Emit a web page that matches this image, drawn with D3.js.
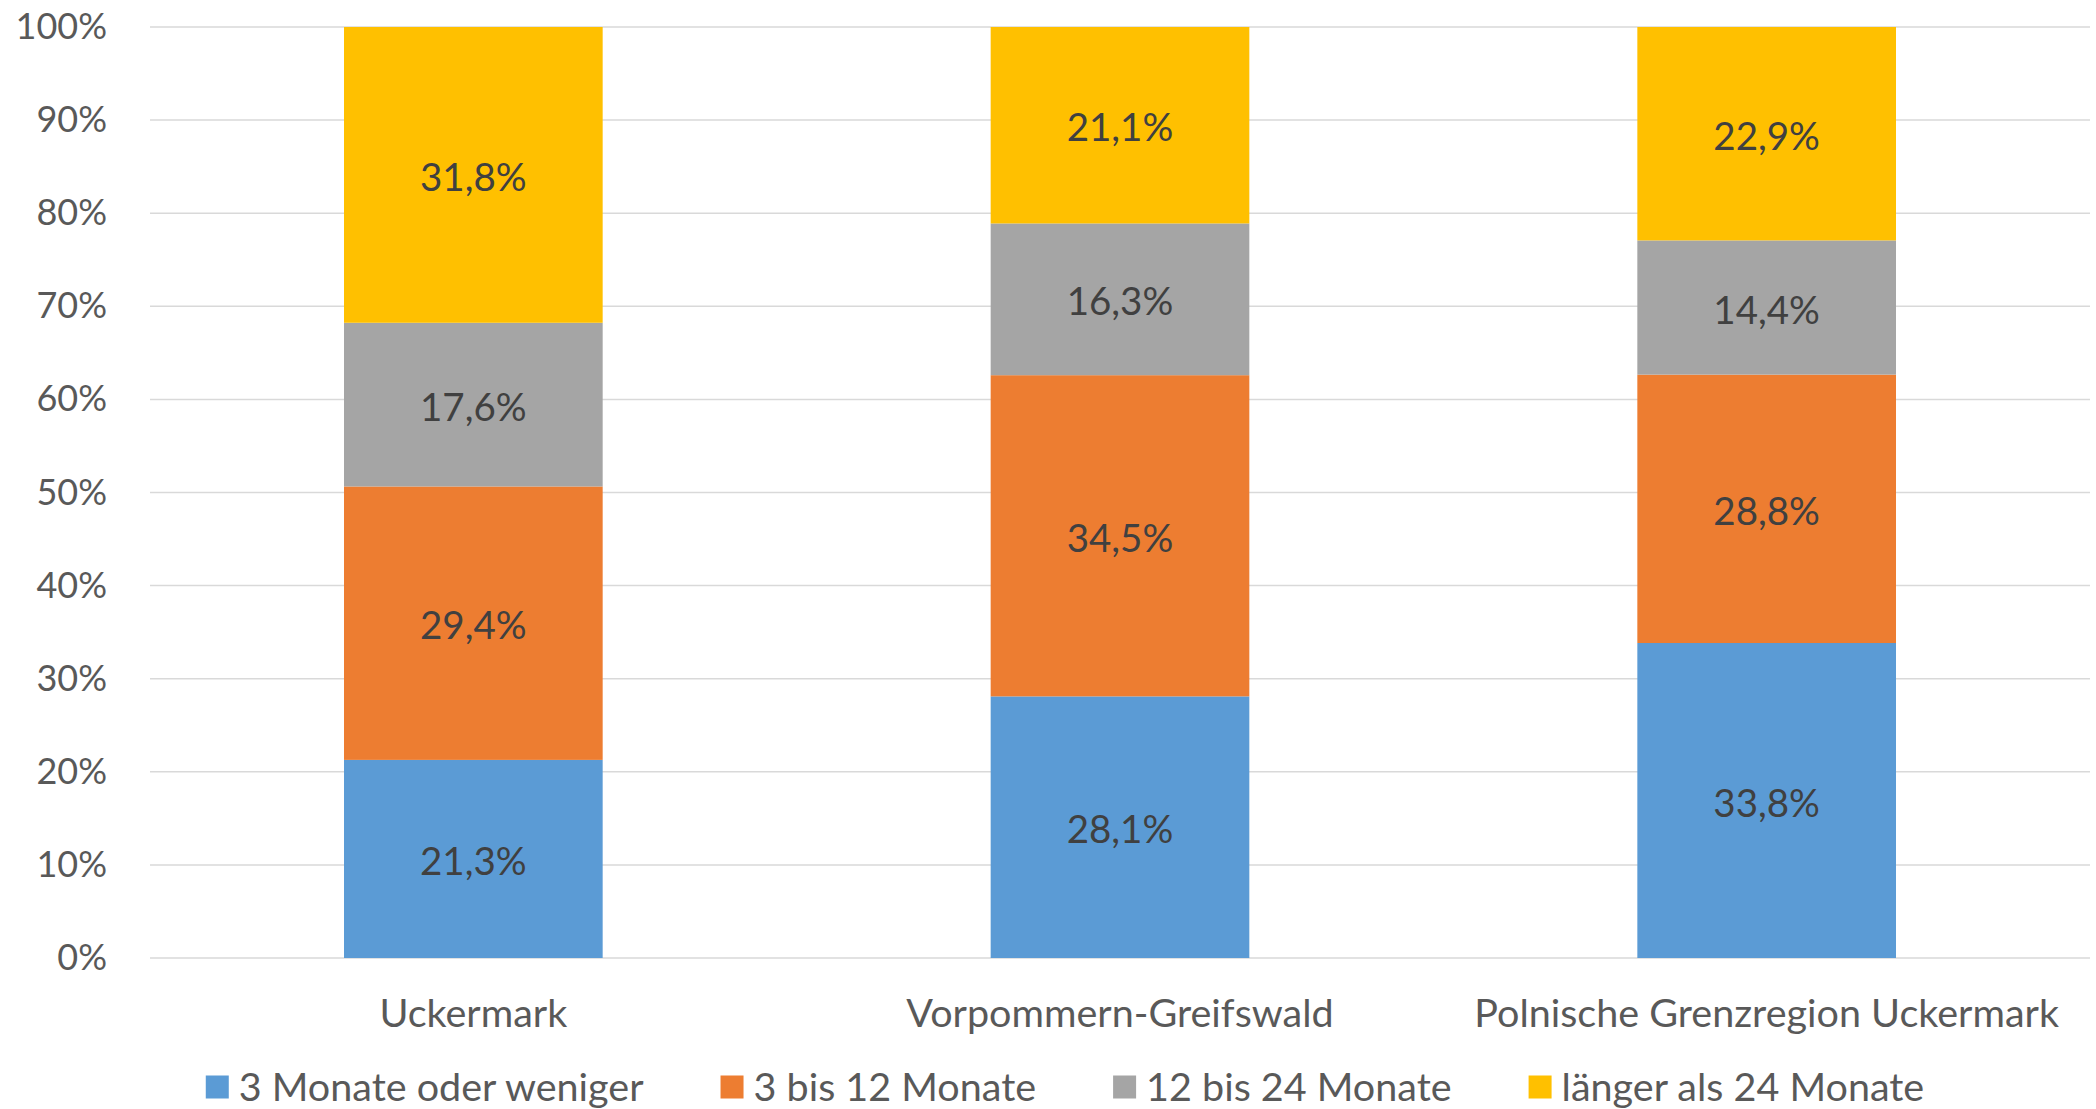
<!DOCTYPE html>
<html>
<head>
<meta charset="utf-8">
<script src="https://cdn.jsdelivr.net/npm/d3@7"></script>
<style>
  body { margin: 0; background: #fff; }
  text { font-family: Lato, "Open Sans", sans-serif; }
</style>
</head>
<body>
<svg width="2096" height="1109"></svg>
<script>
// categories and series (percent shares)
var regions = ["Uckermark", "Vorpommern-Greifswald", "Polnische Grenzregion Uckermark"];
var seriesNames = ["3 Monate oder weniger", "3 bis 12 Monate", "12 bis 24 Monate", "länger als 24 Monate"];
var upTo3 = [21.3, 28.1, 33.8];
var from3to12 = [29.4, 34.5, 28.8];
var from12to24 = [17.6, 16.3, 14.4];
var over24 = [31.8, 21.1, 22.9];
var yTicks = [0, 10, 20, 30, 40, 50, 60, 70, 80, 90, 100];

var colors = ["#5B9BD5", "#ED7D31", "#A5A5A5", "#FFC000"];

var svg = d3.select("svg"),
    width = +svg.attr("width"),
    height = +svg.attr("height");

var margin = {left: 150, right: 6, top: 27, bottom: 151};

var x = d3.scaleBand()
    .domain(regions)
    .range([margin.left, width - margin.right])
    .paddingInner(0.6)
    .paddingOuter(0.3);

var y = d3.scaleLinear()
    .domain([0, 100])
    .range([height - margin.bottom, margin.top]);

// build rows for the stack, 100% stacked so normalise each column
var values = [upTo3, from3to12, from12to24, over24];
var rows = regions.map(function(r, i) {
  var row = {region: r};
  var total = d3.sum(values, function(v) { return v[i]; });
  seriesNames.forEach(function(s, k) {
    row[s] = values[k][i] / total * 100;
    row[s + "_label"] = values[k][i];
  });
  return row;
});

var stacked = d3.stack().keys(seriesNames)(rows);

// gridlines
svg.append("g")
  .selectAll("line")
  .data(yTicks)
  .enter().append("line")
    .attr("x1", margin.left)
    .attr("x2", width - margin.right)
    .attr("y1", function(d) { return y(d); })
    .attr("y2", function(d) { return y(d); })
    .attr("stroke", "#D9D9D9")
    .attr("stroke-width", 1.5);

// y axis labels
var yAxis = svg.append("g")
    .attr("transform", "translate(107,0)")
    .call(d3.axisLeft(y).tickValues(yTicks).tickSize(0).tickPadding(0)
      .tickFormat(function(d) { return d + "%"; }));
yAxis.select(".domain").remove();
yAxis.selectAll("text")
    .attr("fill", "#595959")
    .style("font-size", "36px")
    .style("font-family", "Lato, sans-serif");

// bars
var layer = svg.append("g")
  .selectAll("g")
  .data(stacked)
  .enter().append("g")
    .attr("fill", function(d, i) { return colors[i]; });

layer.selectAll("rect")
  .data(function(d) { return d; })
  .enter().append("rect")
    .attr("x", function(d) { return x(d.data.region); })
    .attr("width", x.bandwidth())
    .attr("y", function(d) { return y(d[1]); })
    .attr("height", function(d) { return y(d[0]) - y(d[1]); });

// data labels
layer.each(function(s) {
  d3.select(this).selectAll("text")
    .data(s)
    .enter().append("text")
      .attr("x", function(d) { return x(d.data.region) + x.bandwidth() / 2; })
      .attr("y", function(d) { return y((d[0] + d[1]) / 2); })
      .attr("text-anchor", "middle")
      .attr("dy", "0.42em")
      .attr("fill", "#404040")
      .style("font-size", "38.5px")
      .text(function(d) { return d3.format(".1f")(d.data[s.key + "_label"]).replace(".", ",") + "%"; });
});

// x axis labels
var xAxis = svg.append("g")
    .attr("transform", "translate(0," + (height - margin.bottom) + ")")
    .call(d3.axisBottom(x).tickSize(0).tickPadding(0));
xAxis.select(".domain").remove();
xAxis.selectAll("text")
    .attr("y", 55)
    .attr("dy", "0.36em")
    .attr("fill", "#595959")
    .style("font-size", "39.5px")
    .style("font-family", "Lato, sans-serif");

// legend
var legend = svg.append("g");
var items = legend.selectAll("g")
  .data(seriesNames)
  .enter().append("g");
items.append("rect")
    .attr("width", 23)
    .attr("height", 23)
    .attr("y", -11.5)
    .attr("fill", function(d, i) { return colors[i]; });
items.append("text")
    .attr("x", 33)
    .attr("dy", "0.36em")
    .attr("fill", "#595959")
    .style("font-size", "39.5px")
    .text(function(d) { return d; });

var offset = 0;
items.each(function() {
  var g = d3.select(this);
  g.attr("transform", "translate(" + offset + ",0)");
  offset += 33 + g.select("text").node().getComputedTextLength() + 77;
});
offset -= 77;
legend.attr("transform", "translate(" + (1065 - offset / 2) + ",1087)");
</script>
</body>
</html>
